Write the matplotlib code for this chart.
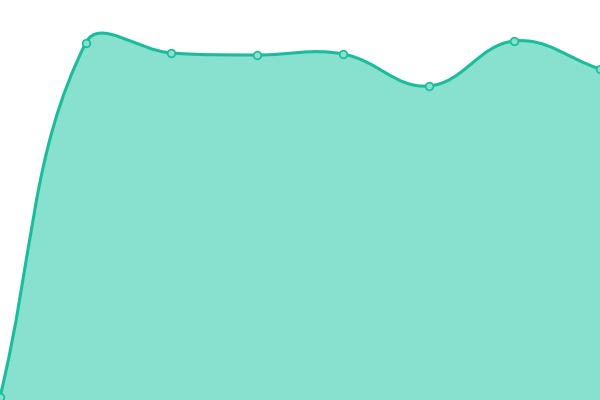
import matplotlib
matplotlib.use("Agg")
import matplotlib.pyplot as plt
import numpy as np
from matplotlib.path import Path
from matplotlib.patches import PathPatch

# series values (one per category)
categories = ["A", "B", "C", "D", "E", "F", "G", "H"]
values = [3, 357, 347, 345, 346, 314, 359, 331]

LINE = "#1abc9c"
FILL = "#88e0cf"
TENSION = 0.4


def spline_controls(pts, t):
    """Bezier control points in the style of Chart.js splineCurve."""
    n = len(pts)
    prev_cp = np.zeros_like(pts)
    next_cp = np.zeros_like(pts)
    for i in range(n):
        cur = pts[i]
        prv = pts[i - 1] if i > 0 else cur
        nxt = pts[i + 1] if i < n - 1 else cur
        d01 = np.hypot(*(cur - prv))
        d12 = np.hypot(*(nxt - cur))
        tot = d01 + d12
        s01 = d01 / tot if tot else 0
        s12 = d12 / tot if tot else 0
        prev_cp[i] = cur - t * s01 * (nxt - prv)
        next_cp[i] = cur + t * s12 * (nxt - prv)
    return prev_cp, next_cp


fig = plt.figure(figsize=(6, 4), dpi=100)
ax = fig.add_axes([0, 0, 1, 1])
ax.set_xlim(0, len(categories) - 1)
ax.set_ylim(0, 400)
ax.axis("off")

x = np.arange(len(categories))
disp = ax.transData.transform(np.column_stack([x, values]))
pc, nc = spline_controls(disp, TENSION)
# keep control points inside the plot area
lo, hi = ax.transData.transform([(0, 0), (len(categories) - 1, 400)])
pc = np.clip(pc, lo, hi)
nc = np.clip(nc, lo, hi)

verts = [disp[0]]
codes = [Path.MOVETO]
for i in range(1, len(disp)):
    verts += [nc[i - 1], pc[i], disp[i]]
    codes += [Path.CURVE4] * 3
inv = ax.transData.inverted()
line_verts = inv.transform(np.array(verts))

line_path = Path(line_verts, codes)
fill_verts = np.vstack([line_verts, [[x[-1], 0], [x[0], 0], [x[0], values[0]]]])
fill_codes = codes + [Path.LINETO, Path.LINETO, Path.CLOSEPOLY]

ax.add_patch(PathPatch(Path(fill_verts, fill_codes), facecolor=FILL, edgecolor="none"))
ax.add_patch(PathPatch(line_path, facecolor="none", edgecolor=LINE, lw=2.2))
ax.plot(x, values, "o", ms=5.5, mfc=FILL, mec=LINE, mew=1.2)

fig.savefig("out.png", dpi=100)
